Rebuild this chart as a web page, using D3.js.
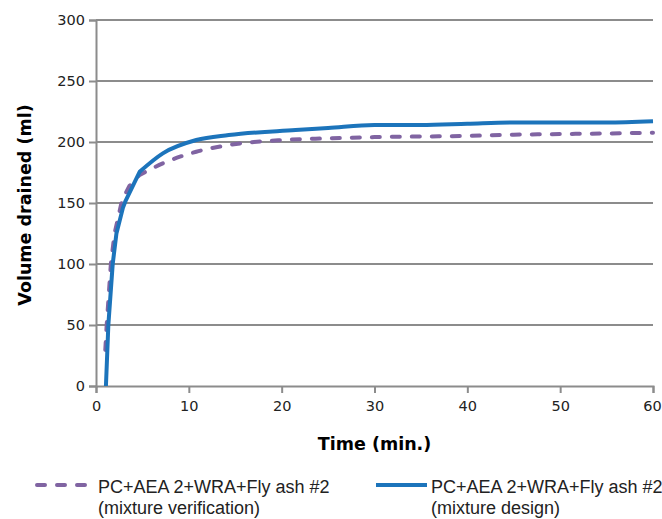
<!DOCTYPE html>
<html>
<head>
<meta charset="utf-8">
<script src="https://cdn.jsdelivr.net/npm/d3@7"></script>
<style>
  body { margin: 0; background: #fff; }
  svg { display: block; font-family: "DejaVu Sans", sans-serif; }
</style>
</head>
<body>
<div id="chart"></div>
<script>
// time (min.) / volume drained (ml)
var verifTime = [1.0, 1.15, 1.6, 2.0, 2.8, 3.6, 4.7, 7.2, 10.8, 14.3, 20, 25, 30, 35, 40, 45, 50, 55, 60];
var verifVolume = [29.5, 50, 100, 125, 152, 164, 173, 182.5, 192, 197.5, 201.6, 203, 204, 204.5, 205, 206, 206.5, 207, 207.6];

var designTime = [1.07, 1.33, 1.8, 2.2, 2.9, 3.2, 4.7, 7.2, 10.8, 14.3, 21.5, 25, 30, 35, 40, 45, 50, 55, 60];
var designVolume = [0, 50, 100, 125, 146, 152, 175.6, 190.7, 201.6, 205.7, 209.8, 211.5, 214, 214, 215, 216, 216, 216, 217];

var xTicks = [0, 10, 20, 30, 40, 50, 60];
var yTicks = [0, 50, 100, 150, 200, 250, 300];

var seriesNames = ['PC+AEA 2+WRA+Fly ash #2', 'PC+AEA 2+WRA+Fly ash #2'];
var seriesNotes = ['(mixture verification)', '(mixture design)'];

var width = 662, height = 519;
var margin = { top: 20, left: 96, right: 9, bottom: 133 };

var svg = d3.select('#chart').append('svg')
    .attr('width', width)
    .attr('height', height);

var x = d3.scaleLinear().domain([0, 60]).range([margin.left, width - margin.right]);
var y = d3.scaleLinear().domain([0, 300]).range([height - margin.bottom, margin.top]);

var gridColor = '#8c8c8c';

/* horizontal gridlines */
svg.append('g').selectAll('line')
    .data(yTicks.filter(function(d) { return d > 0; }))
    .enter().append('line')
    .attr('x1', x(0)).attr('x2', x(60))
    .attr('y1', function(d) { return y(d); })
    .attr('y2', function(d) { return y(d); })
    .attr('stroke', gridColor)
    .attr('stroke-width', 2);

/* axes */
var xAxis = svg.append('g')
    .attr('transform', 'translate(0,' + y(0) + ')')
    .call(d3.axisBottom(x).tickValues(xTicks).tickSize(7).tickPadding(8));
var yAxis = svg.append('g')
    .attr('transform', 'translate(' + x(0) + ',0)')
    .call(d3.axisLeft(y).tickValues(yTicks).tickSize(7).tickPadding(4));

[xAxis, yAxis].forEach(function(ax) {
    ax.select('.domain').attr('stroke', gridColor).attr('stroke-width', 2);
    ax.selectAll('.tick line').attr('stroke', gridColor).attr('stroke-width', 2);
    ax.selectAll('.tick text')
        .attr('fill', '#222')
        .style('font-size', '14.5px')
        .style('font-family', '"DejaVu Sans", sans-serif');
});
// keep the last x label inside the picture
xAxis.selectAll('.tick text').filter(function(d) { return d === 60; }).attr('dx', -1);

/* series: straight rise up to the knee, smooth after it */
var straight = d3.line()
    .x(function(d) { return x(d[0]); })
    .y(function(d) { return y(d[1]); });
var smooth = d3.line()
    .x(function(d) { return x(d[0]); })
    .y(function(d) { return y(d[1]); })
    .curve(d3.curveMonotoneX);

function seriesPath(data, knee) {
    var k = data.findIndex(function(d) { return d[0] === knee; });
    return straight(data.slice(0, k + 1)) + smooth(data.slice(k)).replace(/^M/, 'L');
}

var verifData = d3.zip(verifTime, verifVolume);
var designData = d3.zip(designTime, designVolume);

svg.append('path')
    .attr('d', seriesPath(verifData, 4.7))
    .attr('fill', 'none')
    .attr('stroke', '#8064a2')
    .attr('stroke-width', 4)
    .attr('stroke-dasharray', '8,12')
    .attr('stroke-linecap', 'round')
    .attr('stroke-linejoin', 'round');

svg.append('path')
    .attr('d', seriesPath(designData, 4.7))
    .attr('fill', 'none')
    .attr('stroke', '#1c74bb')
    .attr('stroke-width', 4)
    .attr('stroke-linejoin', 'round');

/* axis titles */
svg.append('text')
    .attr('x', x(30))
    .attr('y', 450)
    .attr('text-anchor', 'middle')
    .style('font-size', '17.5px')
    .style('font-weight', 'bold')
    .text('Time (min.)');

svg.append('text')
    .attr('transform', 'translate(31,205) rotate(-90)')
    .attr('text-anchor', 'middle')
    .style('font-size', '17.5px')
    .style('font-weight', 'bold')
    .text('Volume drained (ml)');

/* legend */
var legend = [
    { x0: 37, x1: 85, tx: 98, color: '#8064a2', dash: '8,12' },
    { x0: 376, x1: 427, tx: 431, color: '#1c74bb', dash: null }
];

legend.forEach(function(l, i) {
    svg.append('line')
        .attr('x1', l.x0).attr('x2', l.x1)
        .attr('y1', 485).attr('y2', 485)
        .attr('stroke', l.color)
        .attr('stroke-width', 4)
        .attr('stroke-dasharray', l.dash)
        .attr('stroke-linecap', l.dash ? 'round' : 'butt');
    var t = svg.append('text')
        .attr('x', l.tx)
        .attr('y', 493)
        .attr('fill', '#222')
        .style('font-family', '"Liberation Sans", Arial, sans-serif')
        .style('font-size', '18px');
    t.append('tspan').attr('x', l.tx).text(seriesNames[i]);
    t.append('tspan').attr('x', l.tx).attr('dy', 21).text(seriesNotes[i]);
});
</script>
</body>
</html>
